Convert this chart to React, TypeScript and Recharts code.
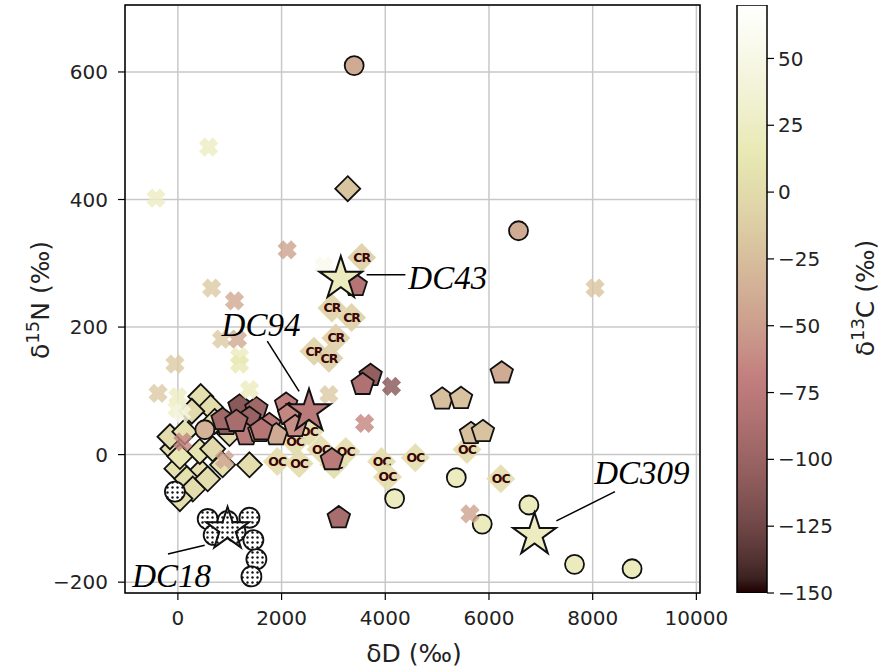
import {
  ScatterChart,
  Scatter,
  XAxis,
  YAxis,
  CartesianGrid,
  ReferenceLine,
  ReferenceArea,
  BarChart,
  Bar,
} from "recharts";

// colour scale limits (δ13C, ‰)
const C_MIN = -150;
const C_MAX = 70;

// plain circles
const circleD = [3400, 6570, 520, 4180, 5370, 5870, 6770, 7650, 8760];
const circleN = [610, 351, 39, -69, -36, -109, -79, -172, -179];
const circleC = [-40, -40, -35, 22, 22, 20, 20, 20, 20];

// dotted circles
const dotD = [-57, 575, 958, 1380, 1456, 1514, 1418, 1111, 690];
const dotN = [-58, -101, -104, -99, -134, -164, -191, -121, -126];

// diamonds with edge
const diaD = [441, 632, 996, 1380, -19, 441, 172, 422, -96, -153, 671, 134, 287, 862, 575, 268, 709, 38, 38, 3276];
const diaN = [91, 74, 33, -16, -22, -27, -38, 5, 9, 28, 9, 36, -54, -16, -38, 68, 52, -3, -69, 417];
const diaC = [5, 2, 0, 3, 8, 5, 6, 10, 4, 2, 0, 8, 4, 6, 3, 0, 5, 12, 5, -20];

// OC diamonds
const ocD = [1916, 2261, 2529, 2759, 2338, 3008, 3238, 3928, 4043, 4579, 5576, 6227];
const ocN = [-11, 20, 36, 8, -14, -16, 5, -11, -35, -5, 8, -38];
const ocC = [3, 2, 4, 3, 2, 4, 3, 4, 2, 3, 2, 3];

// CR diamonds
const crD = [3545, 2970, 3046, 2625, 2912, 3350];
const crN = [309, 230, 183, 162, 151, 215];
const crC = [-10, -8, -10, -8, -10, -9];

// pentagons
const pentD = [6246, 5097, 5461, 5653, 5883, 3717, 3564, 3430, 2970, 3104, 1188, 1514, 939, 1380, 1322, 1571, 1763, 2088, 2146, 1897, 1609, 862, 1130, 2261];
const pentN = [128, 87, 88, 33, 36, 124, 110, 265, -8, -99, 76, 72, 47, 57, 31, 36, 47, 79, 63, 31, 39, 55, 52, 44];
const pentC = [-40, -25, -22, -25, -22, -105, -85, -80, -75, -90, -110, -95, -110, -100, -75, -45, -75, -70, -65, -40, -80, -95, -90, -60];

// crosses
const crossD = [-422, 594, 2108, 651, 8047, 1092, 843, 1150, 1188, 1188, 1380, -57, -383, 0, -19, 77, 96, 900, 4119, 3602, 2912, 5633, 2817];
const crossN = [402, 482, 321, 261, 261, 241, 181, 181, 154, 142, 102, 142, 96, 91, 72, 65, 20, -8, 107, 49, 94, -93, 296];
const crossC = [25, 25, -45, -15, -20, -40, -15, -40, 20, 15, 20, -15, -15, 25, 30, 45, -65, -45, -110, -65, -15, -45, 55];

// named samples (stars)
const starD = [3142, 2529, 6878, 958];
const starN = [276, 68, -126, -117];
const starC = [20, -75, 22, 0];
const starDotted = [false, false, false, true];

// annotation text and leader lines
const annText = ["DC43", "DC94", "DC309", "DC18"];
const annD = [4445, 843, 8028, -881];
const annN = [260, 186, -46, -208];
const leadD1 = [3640, 1724, 7300, -192];
const leadN1 = [282, 178, -104, -156];
const leadD2 = [4388, 2338, 8430, 517];
const leadN2 = [282, 99, -58, -142];

const xTicks = [0, 2000, 4000, 6000, 8000, 10000];
const yTicks = [-200, 0, 200, 400, 600];
const cTicks = [-150, -125, -100, -75, -50, -25, 0, 25, 50];

const X_DOMAIN: [number, number] = [-1020, 10070];
const Y_DOMAIN: [number, number] = [-217, 705];

const pts = (xs: number[], ys: number[], cs?: number[]) =>
  xs.map((x, i) => ({ x, y: ys[i], c: cs ? cs[i] : 0, i }));

// matplotlib "pink" colormap
function pinkRGB(t: number): [number, number, number] {
  t = Math.max(0, Math.min(1, t));
  const hr = t < 0.365079 ? 0.0416 + (t / 0.365079) * (1 - 0.0416) : 1;
  const hg = t < 0.365079 ? 0 : t < 0.746032 ? (t - 0.365079) / (0.746032 - 0.365079) : 1;
  const hb = t < 0.746032 ? 0 : (t - 0.746032) / (1 - 0.746032);
  const f = (h: number) => Math.round(255 * Math.sqrt((2 * t + h) / 3));
  return [f(hr), f(hg), f(hb)];
}
const pink = (c: number) => {
  const [r, g, b] = pinkRGB((c - C_MIN) / (C_MAX - C_MIN));
  return `rgb(${r},${g},${b})`;
};

const EDGE = "#111";

const CircleShape = (p: any) => (
  <circle cx={p.cx} cy={p.cy} r={9.5} fill={pink(p.payload.c)} stroke={EDGE} strokeWidth={1.8} />
);

const DotCircleShape = (p: any) => (
  <circle cx={p.cx} cy={p.cy} r={10} fill="url(#dots)" stroke={EDGE} strokeWidth={1.8} />
);

const diamondPts = (cx: number, cy: number, s: number) =>
  `${cx},${cy - s} ${cx + s},${cy} ${cx},${cy + s} ${cx - s},${cy}`;

const DiamondShape = (p: any) => (
  <polygon points={diamondPts(p.cx, p.cy, 12.5)} fill={pink(p.payload.c)} stroke={EDGE} strokeWidth={1.8} />
);

const makeTextDiamond = (label: string) => (p: any) => (
  <g>
    <polygon points={diamondPts(p.cx, p.cy, 14.5)} fill={pink(p.payload.c)} fillOpacity={0.92} />
    <text
      x={p.cx}
      y={p.cy + 4.5}
      textAnchor="middle"
      fontFamily="DejaVu Sans"
      fontWeight="bold"
      fontSize={12.5}
      letterSpacing={-1}
      fill="#3a0505"
    >
      {label}
    </text>
  </g>
);
const OCShape = makeTextDiamond("OC");
const CRShape = makeTextDiamond("CR");

const polyPts = (cx: number, cy: number, n: number, radii: number[]) => {
  const out: string[] = [];
  for (let k = 0; k < n; k++) {
    const a = -Math.PI / 2 + (k * 2 * Math.PI) / n;
    const r = radii[k % radii.length];
    out.push(`${cx + r * Math.cos(a)},${cy + r * Math.sin(a)}`);
  }
  return out.join(" ");
};

const PentShape = (p: any) => (
  <polygon points={polyPts(p.cx, p.cy, 5, [11.8])} fill={pink(p.payload.c)} stroke={EDGE} strokeWidth={1.8} />
);

const crossPts = (cx: number, cy: number) => {
  const a = 4;
  const b = 9.6;
  const base = [
    [a, b], [-a, b], [-a, a], [-b, a], [-b, -a], [-a, -a],
    [-a, -b], [a, -b], [a, -a], [b, -a], [b, a], [a, a],
  ];
  const cs = Math.SQRT1_2;
  return base
    .map(([x, y]) => `${cx + (x - y) * cs},${cy + (x + y) * cs}`)
    .join(" ");
};

const CrossShape = (p: any) => (
  <polygon points={crossPts(p.cx, p.cy)} fill={pink(p.payload.c)} fillOpacity={0.82} />
);

const StarShape = (p: any) => (
  <polygon
    points={polyPts(p.cx, p.cy, 10, [22.5, 22.5 * 0.382])}
    fill={starDotted[p.payload.i] ? "url(#dots)" : pink(p.payload.c)}
    stroke={EDGE}
    strokeWidth={2}
    strokeLinejoin="miter"
  />
);

const AnnShape = (p: any) => (
  <text
    x={p.cx}
    y={p.cy}
    fontFamily="'Liberation Serif', 'Times New Roman', serif"
    fontStyle="italic"
    fontSize={33}
    fill="#000"
  >
    {annText[p.payload.i]}
  </text>
);

const tickStyle = { fontSize: 20, fill: "#222", fontFamily: "DejaVu Sans" };

const gradStops = Array.from({ length: 41 }, (_, k) => k / 40);

const App = () => {
  return (
    <div
      style={{
        position: "absolute",
        left: 0,
        top: 0,
        width: 881,
        height: 670,
        background: "#fff",
        overflow: "hidden",
      }}
    >
      <div style={{ position: "absolute", left: 0, top: 0 }}>
        <ScatterChart width={760} height={670} margin={{ top: 5, right: 60, bottom: 0, left: 0 }}>
          <defs>
            <pattern id="dots" width="5" height="5" patternUnits="userSpaceOnUse">
              <rect width="5" height="5" fill="#fff" />
              <circle cx="2.5" cy="2.5" r="1.2" fill="#111" />
            </pattern>
          </defs>
          <CartesianGrid stroke="#c8c8c8" strokeWidth={1.5} />
          <XAxis
            type="number"
            dataKey="x"
            domain={X_DOMAIN}
            ticks={xTicks}
            allowDataOverflow
            height={77}
            axisLine={false}
            tickSize={7}
            tickMargin={11}
            tickLine={{ stroke: "#000", strokeWidth: 1.2 }}
            tick={tickStyle}
            tickFormatter={(v) => String(v)}
          />
          <YAxis
            type="number"
            dataKey="y"
            domain={Y_DOMAIN}
            ticks={yTicks}
            allowDataOverflow
            width={125}
            axisLine={false}
            tickSize={7}
            tickMargin={10}
            tickLine={{ stroke: "#000", strokeWidth: 1.2 }}
            tick={tickStyle}
            tickFormatter={(v) => (v < 0 ? "\u2212" + Math.abs(v) : String(v))}
          />
          <Scatter data={pts(ocD, ocN, ocC)} shape={OCShape} isAnimationActive={false} />
          <Scatter data={pts(crD, crN, crC)} shape={CRShape} isAnimationActive={false} />
          <Scatter data={pts(diaD, diaN, diaC)} shape={DiamondShape} isAnimationActive={false} />
          <Scatter data={pts(circleD, circleN, circleC)} shape={CircleShape} isAnimationActive={false} />
          <Scatter data={pts(pentD, pentN, pentC)} shape={PentShape} isAnimationActive={false} />
          <Scatter data={pts(crossD, crossN, crossC)} shape={CrossShape} isAnimationActive={false} />
          <Scatter data={pts(dotD, dotN)} shape={DotCircleShape} isAnimationActive={false} />
          <Scatter data={pts(starD, starN, starC)} shape={StarShape} isAnimationActive={false} />
          {leadD1.map((d, i) => (
            <ReferenceLine
              key={"lead" + i}
              segment={[
                { x: d, y: leadN1[i] },
                { x: leadD2[i], y: leadN2[i] },
              ]}
              stroke="#000"
              strokeWidth={1.5}
            />
          ))}
          <Scatter data={pts(annD, annN)} shape={AnnShape} isAnimationActive={false} />
          <ReferenceArea
            x1={X_DOMAIN[0]}
            x2={X_DOMAIN[1]}
            y1={Y_DOMAIN[0]}
            y2={Y_DOMAIN[1]}
            fill="none"
            fillOpacity={0}
            stroke="#000"
            strokeWidth={1.5}
          />
        </ScatterChart>
      </div>

      <div style={{ position: "absolute", left: 700, top: 0 }}>
        <BarChart
          width={181}
          height={670}
          data={[{ n: "cb", v: [C_MIN, C_MAX] }]}
          margin={{ top: 5, right: 0, bottom: 77, left: 37 }}
          barCategoryGap={0}
        >
          <defs>
            <linearGradient id="cbGrad" x1="0" y1="0" x2="0" y2="1">
              {gradStops.map((o) => (
                <stop key={o} offset={o} stopColor={pink(C_MAX - o * (C_MAX - C_MIN))} />
              ))}
            </linearGradient>
          </defs>
          <XAxis dataKey="n" hide />
          <YAxis
            type="number"
            orientation="right"
            domain={[C_MIN, C_MAX]}
            ticks={cTicks}
            allowDataOverflow
            width={114}
            axisLine={false}
            tickSize={7}
            tickMargin={4}
            tickLine={{ stroke: "#000", strokeWidth: 1.2 }}
            tick={{ ...tickStyle, textAnchor: "start" }}
            tickFormatter={(v) => (v < 0 ? "\u2212" + Math.abs(v) : String(v))}
          />
          <Bar dataKey="v" fill="url(#cbGrad)" stroke="#000" strokeWidth={1.5} isAnimationActive={false} />
        </BarChart>
      </div>

      <svg
        width={881}
        height={670}
        style={{ position: "absolute", left: 0, top: 0, pointerEvents: "none" }}
        fontFamily="DejaVu Sans"
        fill="#222"
      >
        <text x={414} y={662} textAnchor="middle" fontSize={25}>
          δD (‰)
        </text>
        <text transform="translate(49,300) rotate(-90)" textAnchor="middle" fontSize={25}>
          δ
          <tspan dy={-10} fontSize={18}>
            15
          </tspan>
          <tspan dy={10}>N (‰)</tspan>
        </text>
        <text transform="translate(874,298) rotate(-90)" textAnchor="middle" fontSize={25}>
          δ
          <tspan dy={-10} fontSize={18}>
            13
          </tspan>
          <tspan dy={10}>C (‰)</tspan>
        </text>
      </svg>
    </div>
  );
};

export default App;
